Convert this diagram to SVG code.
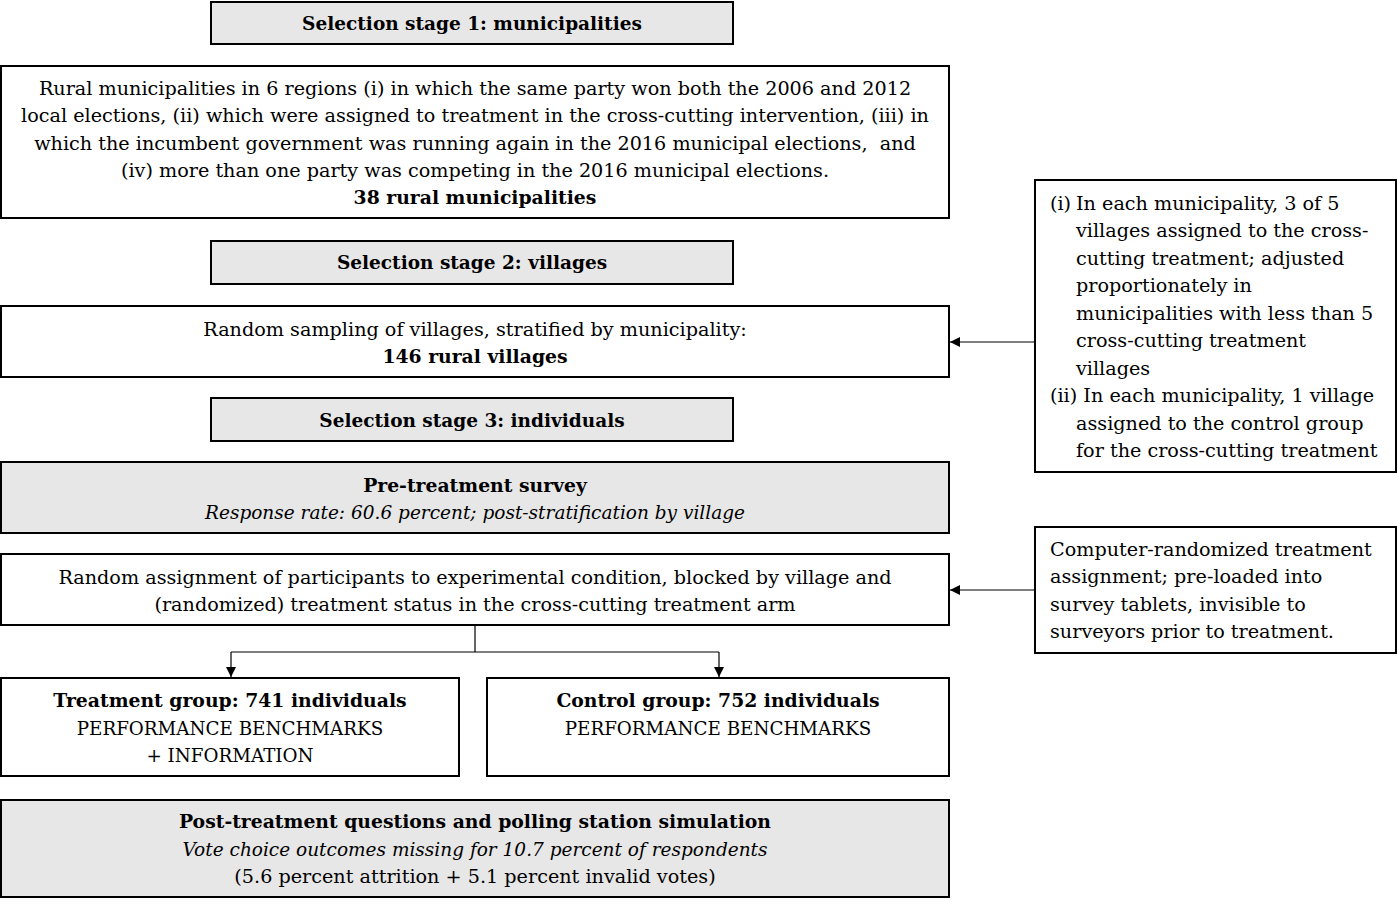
<svg xmlns="http://www.w3.org/2000/svg" width="1397" height="904" viewBox="0 0 1397 904">
<defs>
<marker id="arr" viewBox="0 0 10 10" refX="10" refY="5" markerWidth="10" markerHeight="10" markerUnits="userSpaceOnUse" orient="auto">
<path d="M0,0 L10,5 L0,10 z" fill="#000"/>
</marker>
<style>
.box{fill:#fff;stroke:#000;stroke-width:2}
.grey{fill:#e7e7e7;stroke:#000;stroke-width:2}
text{font-family:"DejaVu Serif","Liberation Serif",serif;font-size:19.2px;fill:#000}
.c{text-anchor:middle}
.b{font-weight:bold;font-size:18.8px}
.s{font-size:18.5px}
.caps{font-size:18.3px}
.i{font-style:italic;font-size:18.5px}
.conn{fill:none;stroke:#000;stroke-width:1.2}
</style>
</defs>
<rect width="1397" height="904" fill="#fff"/>
<g id="stage1">
<rect class="grey" x="211" y="2" width="522" height="42"/>
<text class="c b s" x="472" y="30">Selection stage 1: municipalities</text>
</g>
<g id="municipalities">
<rect class="box" x="1" y="66" width="948" height="152"/>
<text class="c" x="475" y="95">Rural municipalities in 6 regions (i) in which the same party won both the 2006 and 2012</text>
<text class="c" x="475" y="122">local elections, (ii) which were assigned to treatment in the cross-cutting intervention, (iii) in</text>
<text class="c" x="475" y="150" xml:space="preserve">which the incumbent government was running again in the 2016 municipal elections,  and</text>
<text class="c" x="475" y="177">(iv) more than one party was competing in the 2016 municipal elections.</text>
<text class="c b" x="475" y="204">38 rural municipalities</text>
</g>
<g id="stage2">
<rect class="grey" x="211" y="241" width="522" height="43"/>
<text class="c b s" x="472" y="269">Selection stage 2: villages</text>
</g>
<g id="villages">
<rect class="box" x="1" y="306" width="948" height="71"/>
<text class="c" x="475" y="336">Random sampling of villages, stratified by municipality:</text>
<text class="c b" x="475" y="363">146 rural villages</text>
</g>
<g id="stage3">
<rect class="grey" x="211" y="398" width="522" height="43"/>
<text class="c b s" x="472" y="427">Selection stage 3: individuals</text>
</g>
<g id="pretreatment">
<rect class="grey" x="1" y="462" width="948" height="71"/>
<text class="c b" x="475" y="492">Pre-treatment survey</text>
<text class="c i" x="475" y="519">Response rate: 60.6 percent; post-stratification by village</text>
</g>
<g id="assignment">
<rect class="box" x="1" y="554" width="948" height="71"/>
<text class="c" x="475" y="584">Random assignment of participants to experimental condition, blocked by village and</text>
<text class="c" x="475" y="611">(randomized) treatment status in the cross-cutting treatment arm</text>
</g>
<g id="treatment">
<rect class="box" x="1" y="678" width="458" height="98"/>
<text class="c b" x="230" y="707">Treatment group: 741 individuals</text>
<text class="c caps" x="230" y="735">PERFORMANCE BENCHMARKS</text>
<text class="c caps" x="230" y="762">+ INFORMATION</text>
</g>
<g id="control">
<rect class="box" x="487" y="678" width="462" height="98"/>
<text class="c b" x="718" y="707">Control group: 752 individuals</text>
<text class="c caps" x="718" y="735">PERFORMANCE BENCHMARKS</text>
</g>
<g id="posttreatment">
<rect class="grey" x="1" y="800" width="948" height="97"/>
<text class="c b" x="475" y="828">Post-treatment questions and polling station simulation</text>
<text class="c i" x="475" y="856">Vote choice outcomes missing for 10.7 percent of respondents</text>
<text class="c" x="475" y="883">(5.6 percent attrition + 5.1 percent invalid votes)</text>
</g>
<g id="villagenote">
<rect class="box" x="1035" y="180" width="361" height="292"/>
<text x="1050" y="210">(i)</text>
<text x="1076" y="210">In each municipality, 3 of 5</text>
<text x="1076" y="237">villages assigned to the cross-</text>
<text x="1076" y="265">cutting treatment; adjusted</text>
<text x="1076" y="292">proportionately in</text>
<text x="1076" y="320">municipalities with less than 5</text>
<text x="1076" y="347">cross-cutting treatment</text>
<text x="1076" y="375">villages</text>
<text x="1050" y="402">(ii) In each municipality, 1 village</text>
<text x="1076" y="430">assigned to the control group</text>
<text x="1076" y="457">for the cross-cutting treatment</text>
</g>
<g id="randomnote">
<rect class="box" x="1035" y="527" width="361" height="126"/>
<text x="1050" y="556">Computer-randomized treatment</text>
<text x="1050" y="583">assignment; pre-loaded into</text>
<text x="1050" y="611">survey tablets, invisible to</text>
<text x="1050" y="638">surveyors prior to treatment.</text>
</g>
<g id="connectors">
<path class="conn" d="M1035,342 L950,342" marker-end="url(#arr)"/>
<path class="conn" d="M1035,590 L950,590" marker-end="url(#arr)"/>
<path class="conn" d="M475,626 L475,652"/>
<path class="conn" d="M231,652 L719,652"/>
<path class="conn" d="M231,652 L231,677" marker-end="url(#arr)"/>
<path class="conn" d="M719,652 L719,677" marker-end="url(#arr)"/>
</g>
</svg>
